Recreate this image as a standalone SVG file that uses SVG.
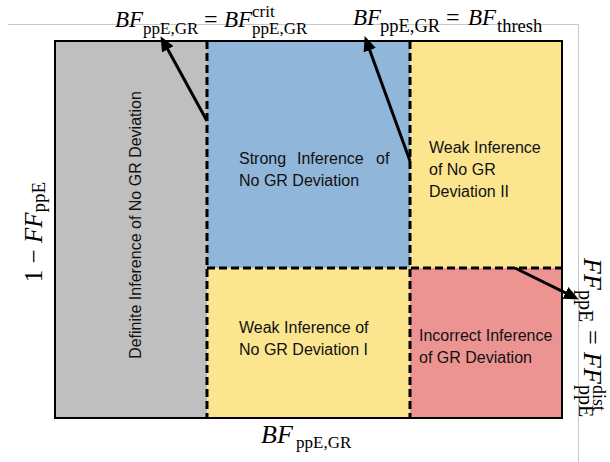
<svg xmlns="http://www.w3.org/2000/svg" width="610" height="462" viewBox="0 0 610 462">
<defs>
<style>
.region{font-family:"Liberation Sans",Arial,sans-serif;font-size:16px;fill:#111}
.math{font-family:"Liberation Serif","Times New Roman",serif;fill:#000}
.it{font-style:italic}
.dash{stroke:#000;stroke-width:3;stroke-dasharray:8 4;fill:none}
.arrow{stroke:#000;stroke-width:3;fill:none;marker-end:url(#ah)}
.frame{stroke:#c8c8c8;stroke-width:1;fill:none}
</style>
<marker id="ah" viewBox="0 0 15 13" refX="4" refY="6.5" markerWidth="15" markerHeight="13" markerUnits="userSpaceOnUse" orient="auto">
<path d="M0,0 L15,6.5 L0,13 z" fill="#000"/>
</marker>
</defs>
<rect width="610" height="462" fill="#fff"/>
<g id="frame">
<line class="frame" x1="8" y1="24.5" x2="578.5" y2="24.5"/>
<line class="frame" x1="578.5" y1="24.5" x2="578.5" y2="462"/>
</g>
<g id="definite">
<rect x="55" y="41" width="152" height="377" fill="#bfbfbf"/>
<text class="region" font-size="16.5" text-anchor="middle" transform="translate(141,225) rotate(-90)">Definite Inference of No GR Deviation</text>
</g>
<g id="strong">
<rect x="207" y="41" width="203" height="227" fill="#90b6da"/>
<text class="region"><tspan x="239" y="164">Strong</tspan><tspan x="297" y="164">Inference</tspan><tspan x="376" y="164">of</tspan><tspan x="239" y="186">No GR Deviation</tspan></text>
</g>
<g id="weak2">
<rect x="410" y="41" width="152" height="227" fill="#fbe68f"/>
<text class="region"><tspan x="429" y="153">Weak Inference</tspan><tspan x="429" y="175">of No GR</tspan><tspan x="429" y="197">Deviation II</tspan></text>
</g>
<g id="weak1">
<rect x="207" y="268" width="203" height="150" fill="#fbe68f"/>
<text class="region"><tspan x="239" y="333">Weak Inference of</tspan><tspan x="239" y="355">No GR Deviation I</tspan></text>
</g>
<g id="incorrect">
<rect x="410" y="268" width="152" height="150" fill="#eb9492"/>
<text class="region"><tspan x="419" y="341">Incorrect Inference</tspan><tspan x="419" y="363">of GR Deviation</tspan></text>
</g>
<g id="boundaries">
<rect x="55" y="41" width="507" height="377" fill="none" stroke="#000" stroke-width="2"/>
<line class="dash" x1="207" y1="41" x2="207" y2="418"/>
<line class="dash" x1="410" y1="41" x2="410" y2="418"/>
<line class="dash" x1="207" y1="268" x2="562" y2="268"/>
</g>
<g id="label-crit">
<text class="math it" font-size="23" x="115" y="26.5">BF</text>
<text class="math" font-size="17" x="143" y="33.5">ppE,GR</text>
<text class="math" font-size="24" x="204" y="26.5">=</text>
<text class="math it" font-size="23" x="224" y="26.5">BF</text>
<text class="math" font-size="17" x="252" y="16.5">crit</text>
<text class="math" font-size="17" x="252" y="33.5">ppE,GR</text>
</g>
<g id="label-thresh">
<text class="math it" font-size="23" x="353" y="25">BF</text>
<text class="math" font-size="18.5" x="380" y="32">ppE,GR</text>
<text class="math" font-size="24" x="446" y="25">=</text>
<text class="math it" font-size="23" x="468" y="25">BF</text>
<text class="math" font-size="18.5" x="497" y="32">thresh</text>
</g>
<g id="label-dist" transform="translate(584,258) rotate(90)">
<text class="math it" font-size="26" x="0" y="0">FF</text>
<text class="math" font-size="20" x="32" y="5">ppE</text>
<text class="math" font-size="26" x="72" y="0">=</text>
<text class="math it" font-size="26" x="94" y="0">FF</text>
<text class="math" font-size="18" x="127" y="-9">dist</text>
<text class="math" font-size="20" x="127" y="5">ppE</text>
</g>
<g id="label-yaxis">
<text class="math" font-size="25" text-anchor="middle" transform="translate(42,232) rotate(-90)">1 − <tspan class="it">FF</tspan><tspan font-size="19" dy="3">ppE</tspan></text>
</g>
<g id="label-xaxis">
<text class="math it" font-size="26" x="261" y="443">BF</text>
<text class="math" font-size="17" x="296" y="448">ppE,GR</text>
</g>
<g id="connectors">
<line class="arrow" x1="207" y1="121" x2="165.8" y2="45.8"/>
<line class="arrow" x1="410" y1="161" x2="368.4" y2="46.4"/>
<line class="arrow" x1="515" y1="268" x2="569" y2="294.6"/>
</g>
</svg>
